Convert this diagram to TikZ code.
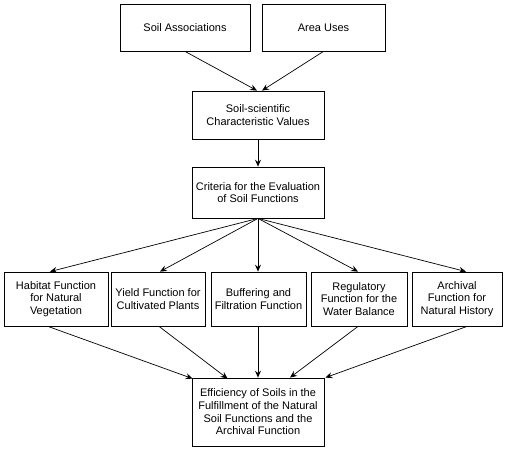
\documentclass[tikz,border=0pt]{standalone}
\usepackage{fontspec}
\setmainfont{Liberation Sans}
\usetikzlibrary{arrows.meta}
\begin{document}
\begin{tikzpicture}[x=1pt,y=-1pt,
  box/.style={draw,line width=0.8pt,align=center,inner sep=1pt,anchor=center,
    font=\fontsize{11}{12.7}\selectfont},
  arr/.style={line width=0.7pt,-{Stealth[length=7pt,width=6pt,inset=2.5pt]}}]
\useasboundingbox (0,0) rectangle (505,450);
\node[box,minimum width=130pt,minimum height=47pt] (sa) at (185,27.5) {Soil Associations};
\node[box,minimum width=123pt,minimum height=47pt] (au) at (323.5,27.5) {Area Uses};
\node[box,minimum width=132pt,minimum height=48pt] (sc) at (258,115) {Soil-scientific\\Characteristic Values};
\node[box,minimum width=132pt,minimum height=51pt] (cr) at (258,192.5) {Criteria for the Evaluation\\of Soil Functions};
\node[box,minimum width=104pt,minimum height=54pt] (hab) at (56,299) {Habitat Function\\for Natural\\Vegetation};
\node[box,minimum width=94pt,minimum height=54pt] (yld) at (158,299) {Yield Function for\\Cultivated Plants};
\node[box,minimum width=95pt,minimum height=54pt] (buf) at (258.5,299) {Buffering and\\Filtration Function};
\node[box,minimum width=96pt,minimum height=54pt] (reg) at (359,299) {Regulatory\\Function for the\\Water Balance};
\node[box,minimum width=90pt,minimum height=54pt] (arc) at (457,299) {Archival\\Function  for\\Natural History};
\node[box,minimum width=132pt,minimum height=68pt] (eff) at (258,412) {Efficiency of Soils in the\\Fulfillment of the Natural\\Soil Functions and the\\Archival Function};
\draw[arr] (sa.south) -- ([xshift=-1pt]sc.north);
\draw[arr] (au.south) -- ([xshift=4pt]sc.north);
\draw[arr] (sc.south) -- (cr.north);
\draw[arr] (cr.south) -- ([xshift=-6pt]hab.north);
\draw[arr] (cr.south) -- ([xshift=2pt]yld.north);
\draw[arr] (cr.south) -- (buf.north -| cr.south);
\draw[arr] (cr.south) -- ([xshift=-1pt]reg.north);
\draw[arr] (cr.south) -- ([xshift=9pt]arc.north);
\draw[arr] ([xshift=-8pt]hab.south) -- ([xshift=1pt,yshift=-1pt]eff.north west);
\draw[arr] ([xshift=1pt]yld.south) -- ([xshift=36pt,yshift=-1pt]eff.north west);
\draw[arr] (buf.south -| eff.north) -- (eff.north);
\draw[arr] ([xshift=-1pt]reg.south) -- ([xshift=32pt]eff.north);
\draw[arr] ([xshift=10pt]arc.south) -- ([xshift=1pt]eff.north east);
\end{tikzpicture}
\end{document}
